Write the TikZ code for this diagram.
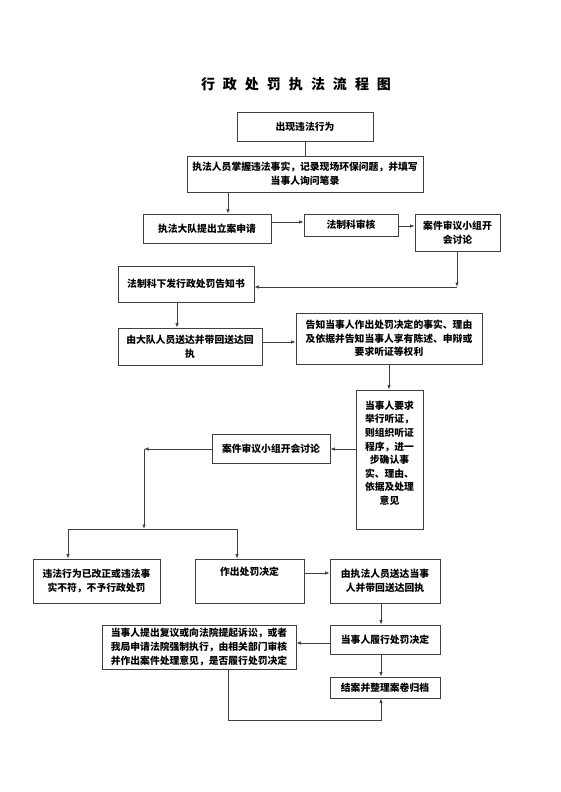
\documentclass[tikz,border=0pt]{standalone}
\usepackage{fontspec}
\setmainfont{Noto Sans CJK SC}
\usepackage{tikz}
\usetikzlibrary{arrows.meta}

\begin{document}
\begin{tikzpicture}[x=1pt,y=-1pt,
    box/.style={draw=black!75,line width=0.8pt,inner sep=0pt,align=center,
      font=\bfseries\fontsize{9.8}{13.6}\selectfont},
    arr/.style={-{Latex[length=4.5pt,width=3.5pt]},draw=black!75,line width=0.8pt},
    ln/.style={draw=black!75,line width=0.8pt}]
    \useasboundingbox (0,0) rectangle (560,792);
    \node (title) at (296,84) {\bfseries\fontsize{14}{16}\selectfont
      行\hspace{8pt}政\hspace{8pt}处\hspace{8pt}罚\hspace{8pt}执\hspace{8pt}法\hspace{8pt}流\hspace{8pt}程\hspace{8pt}图};
    \node[box,minimum width=136pt,minimum height=29pt] (start) at (305,126.5) {出现违法行为};
    \node[box,minimum width=236pt,minimum height=36pt] (fact) at (305,174)
      {执法人员掌握违法事实，记录现场环保问题，并填写\\当事人询问笔录};
    \node[box,minimum width=128pt,minimum height=29pt] (apply) at (207,228.5) {执法大队提出立案申请};
    \node[box,minimum width=94pt,minimum height=22pt] (review) at (351,225) {法制科审核};
    \node[box,minimum width=85pt,minimum height=37pt] (group) at (457.5,232.5) {案件审议小组开\\会讨论};
    \node[box,minimum width=136pt,minimum height=36pt] (notice) at (186,284) {法制科下发行政处罚告知书};
    \node[box,minimum width=144pt,minimum height=37pt] (deliver) at (190,346.5) {由大队人员送达并带回送达回\\执};
    \node[box,minimum width=186pt,minimum height=51pt] (inform) at (389,338.5)
      {告知当事人作出处罚决定的事实、理由\\及依据并告知当事人享有陈述、申辩或\\要求听证等权利};
    \node[box,minimum width=67pt,minimum height=139pt] (hearing) at (389.5,459.5)
      {当事人要求\\举行听证，\\则组织听证\\程序，进一\\步确认事\\实、理由、\\依据及处理\\意见\\~};
    \node[box,minimum width=118pt,minimum height=29pt] (meeting) at (271,448.5) {案件审议小组开会讨论};
    \node[box,minimum width=127pt,minimum height=44pt] (nopenalty) at (96.5,581)
      {违法行为已改正或违法事\\实不符，不予行政处罚};
    \node[box,minimum width=109pt,minimum height=44pt] (decide) at (249.5,581) {作出处罚决定\\[6pt]~};
    \node[box,minimum width=110pt,minimum height=44pt] (deliverb) at (385,581)
      {由执法人员送达当事\\人并带回送达回执};
    \node[box,minimum width=110pt,minimum height=29pt] (perform) at (385,639.5) {当事人履行处罚决定};
    \node[box,minimum width=110pt,minimum height=21pt] (archive) at (385,687.5) {结案并整理案卷归档};
    \node[box,minimum width=194pt,minimum height=44pt] (appeal) at (199,647)
      {当事人提出复议或向法院提起诉讼，或者\\我局申请法院强制执行，由相关部门审核\\并作出案件处理意见，是否履行处罚决定};
    % helper points
    \coordinate (a1) at (228,222);
    \coordinate (a2) at (457,287);
    \coordinate (a3) at (177,342);
    \coordinate (a4) at (144,449);
    \coordinate (a5) at (144,529);
    \coordinate (a6) at (68,529);
    \coordinate (a7) at (237,529);
    \coordinate (a8) at (381,573);
    \coordinate (a9) at (228,720);
    \coordinate (a10) at (381,643);
    \draw[ln] (start) -- (fact);
    \draw[arr] (fact.south -| a1) -- (apply.north -| a1);
    \draw[arr] (apply.east |- a1) -- (review.west |- a1);
    \draw[arr] (review.east |- 0,226) -- (group.west |- 0,226);
    \draw[arr] (group.south -| a2) -- (a2);
    \draw[arr] (a2) -- (notice.east |- a2);
    \draw[arr] (notice.south -| a3) -- (deliver.north -| a3);
    \draw[arr] (deliver.east |- a3) -- (inform.west |- a3);
    \draw[arr] (inform.south -| 389,0) -- (hearing.north -| 389,0);
    \draw[arr] (hearing.west |- a4) -- (meeting.east |- a4);
    \draw[arr] (meeting.west |- a4) -- (a4);
    \draw[arr] (a4) -- (a5);
    \draw[ln] (a6) -- (a7);
    \draw[arr] (a6) -- (nopenalty.north -| a6);
    \draw[arr] (a7) -- (decide.north -| a7);
    \draw[arr] (decide.east |- a8) -- (deliverb.west |- a8);
    \draw[arr] (deliverb.south -| a8) -- (perform.north -| a8);
    \draw[arr] (perform.west |- a10) -- (appeal.east |- a10);
    \draw[arr] (perform.south -| a8) -- (archive.north -| a8);
    \draw[arr] (appeal.south -| a9) -- (a9) -- (a9 -| a8) -- (archive.south -| a8);
\end{tikzpicture}
\end{document}
